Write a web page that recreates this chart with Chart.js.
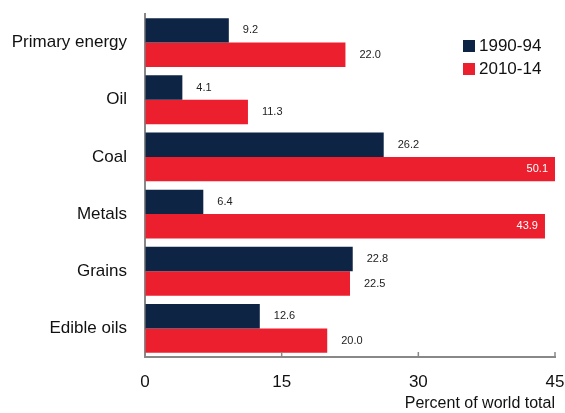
<!DOCTYPE html>
<html>
<head>
<meta charset="utf-8">
<script src="https://cdn.jsdelivr.net/npm/chart.js@4"></script>
<style>
  html, body { margin: 0; padding: 0; background: #fff; }
  canvas { display: block; }
</style>
</head>
<body>
<canvas id="chart" width="565" height="413"></canvas>
<script>
const categories = ['Primary energy', 'Oil', 'Coal', 'Metals', 'Grains', 'Edible oils'];
const seriesNames = ['1990-94', '2010-14'];
const early = [9.2, 4.1, 26.2, 6.4, 22.8, 12.6];
const recent = [22.0, 11.3, 50.1, 43.9, 22.5, 20.0];
const xTicks = [0, 15, 30, 45];

const NAVY = '#0d2444';
const RED = '#ec1f2e';
const FONT = '"Liberation Sans", Arial, sans-serif';

// value labels next to the bars, white inside when the bar is near the edge
const valueLabels = {
    id: 'valueLabels',
    afterDatasetsDraw(chart) {
        const ctx = chart.ctx;
        const area = chart.chartArea;
        ctx.save();
        ctx.font = '11px ' + FONT;
        ctx.textBaseline = 'middle';
        chart.data.datasets.forEach((ds, i) => {
            chart.getDatasetMeta(i).data.forEach((bar, j) => {
                const v = ds.data[j];
                const txt = v.toFixed(1);
                if (v > 40) {
                    ctx.fillStyle = '#fff';
                    ctx.textAlign = 'right';
                    ctx.fillText(txt, Math.min(bar.x, area.right) - 7, bar.y);
                } else {
                    ctx.fillStyle = '#222';
                    ctx.textAlign = 'left';
                    ctx.fillText(txt, bar.x + 14, bar.y);
                }
            });
        });
        ctx.restore();
    }
};

// small tick marks pointing up into the plot, plus the legend box
const extras = {
    id: 'extras',
    afterDraw(chart) {
        const ctx = chart.ctx;
        const x = chart.scales.x;
        const bottom = chart.chartArea.bottom;
        ctx.save();
        ctx.strokeStyle = '#888';
        ctx.lineWidth = 1.5;
        xTicks.slice(1).forEach(v => {
            const px = x.getPixelForValue(v);
            ctx.beginPath();
            ctx.moveTo(px, bottom);
            ctx.lineTo(px, bottom - 5);
            ctx.stroke();
        });

        ctx.font = '17px ' + FONT;
        ctx.textBaseline = 'middle';
        ctx.textAlign = 'left';
        chart.data.datasets.forEach((ds, i) => {
            const y = 46 + i * 23;
            ctx.fillStyle = ds.backgroundColor;
            ctx.fillRect(463, y - 6, 12, 12);
            ctx.fillStyle = '#111';
            ctx.fillText(ds.label, 479, y);
        });
        ctx.restore();
    }
};

new Chart(document.getElementById('chart'), {
    type: 'bar',
    data: {
        labels: categories,
        datasets: [
            { label: seriesNames[0], data: early, backgroundColor: NAVY },
            { label: seriesNames[1], data: recent, backgroundColor: RED }
        ]
    },
    options: {
        indexAxis: 'y',
        responsive: false,
        animation: false,
        categoryPercentage: 0.855,
        barPercentage: 1,
        layout: { padding: { left: 0, right: 10, top: 14, bottom: 0 } },
        plugins: {
            legend: { display: false },
            tooltip: { enabled: false }
        },
        scales: {
            x: {
                min: 0,
                max: 45,
                afterBuildTicks: s => { s.ticks = xTicks.map(v => ({ value: v })); },
                afterFit: s => {
                    s.height = 56;
                    s.paddingLeft = 0;
                    s.paddingRight = 0;
                },
                grid: { display: true, drawOnChartArea: false, drawTicks: false },
                border: { display: true, color: '#888', width: 2 },
                ticks: { padding: 15, color: '#111', font: { family: FONT, size: 17 }, maxRotation: 0 },
                title: {
                    display: true,
                    text: 'Percent of world total',
                    align: 'end',
                    color: '#111',
                    font: { family: FONT, size: 16 },
                    padding: { top: 0, bottom: 0 }
                }
            },
            y: {
                afterFit: s => {
                    s.width = 145;
                    s.paddingTop = 0;
                    s.paddingBottom = 0;
                },
                grid: { display: true, drawOnChartArea: false, drawTicks: false },
                border: { display: true, color: '#888', width: 2 },
                ticks: { padding: 18, color: '#111', font: { family: FONT, size: 17 } }
            }
        }
    },
    plugins: [valueLabels, extras]
});
</script>
</body>
</html>
